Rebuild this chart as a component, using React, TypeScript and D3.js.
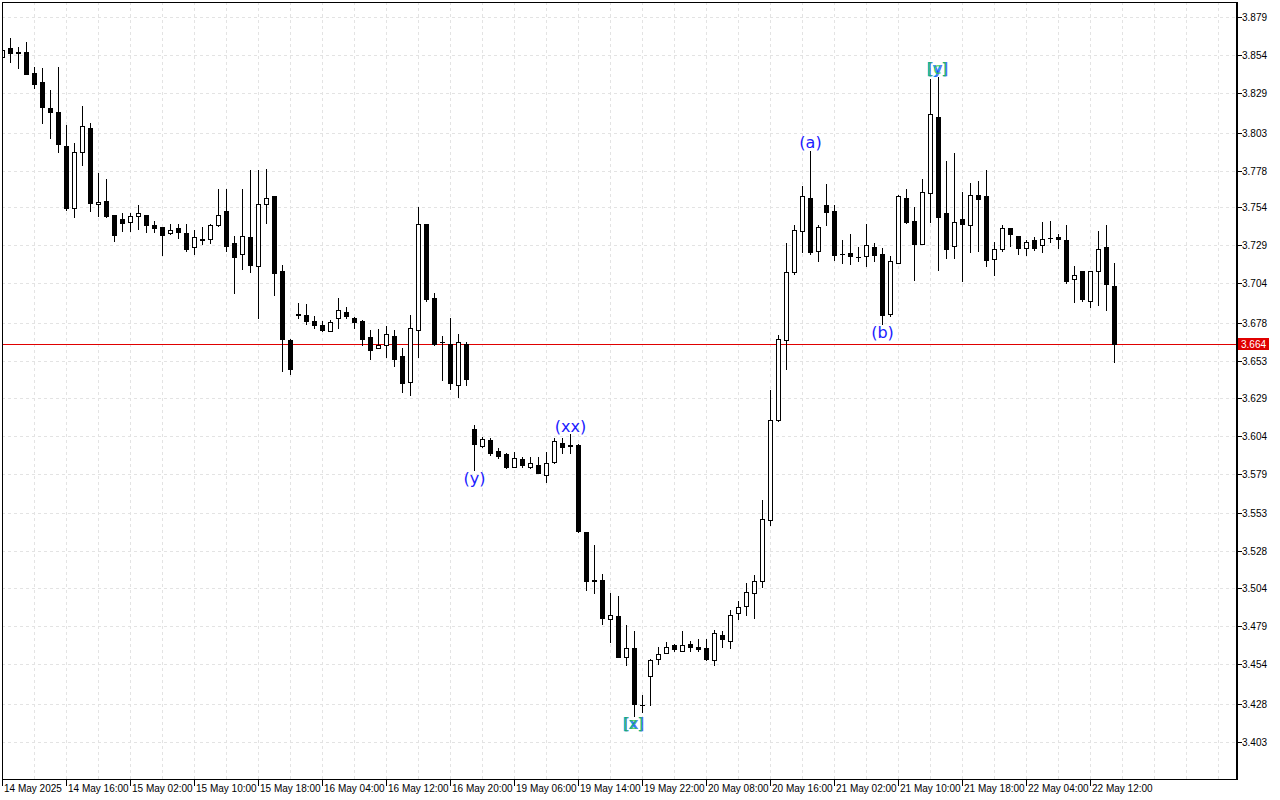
import React from 'react';
import * as d3 from 'd3';

const opens = [3.8527,3.8584,3.8557,3.8558,3.8420,3.8361,3.8190,3.8163,3.7942,3.7532,3.7900,3.8060,3.7559,3.7580,3.7488,3.7462,3.7440,3.7480,3.7488,3.7423,3.7409,3.7368,3.7403,3.7370,3.7276,3.7327,3.7329,3.7421,3.7513,3.7302,3.7230,3.7342,3.7151,3.7559,3.7613,3.7118,3.6671,3.6837,3.6835,3.6791,3.6770,3.6730,3.6811,3.6855,3.6816,3.6796,3.6691,3.6618,3.6638,3.6697,3.6561,3.6392,3.6737,3.7427,3.6947,3.6657,3.6642,3.6375,3.6645,3.6086,3.5974,3.6009,3.5937,3.5917,3.5836,3.5889,3.5833,3.5851,3.5783,3.5866,3.5994,3.5972,3.5976,3.5409,3.5087,3.5093,3.4837,3.4856,3.4587,3.4646,3.4270,3.4462,3.4574,3.4613,3.4666,3.4630,3.4674,3.4653,3.4646,3.4565,3.4732,3.4692,3.4876,3.4922,3.5008,3.5087,3.5488,3.6145,3.6671,3.7116,3.7381,3.7598,3.7250,3.7554,3.7515,3.7230,3.7238,3.7210,3.7217,3.7278,3.7236,3.6842,3.7175,3.7598,3.7451,3.7300,3.7631,3.8131,3.7499,3.7286,3.7460,3.7421,3.7618,3.7613,3.7197,3.7267,3.7401,3.7348,3.7269,3.7322,3.7289,3.7338,3.7342,3.7322,3.7066,3.7118,3.6927,3.7118,3.7276,3.7026];
const highs = [3.8606,3.8650,3.8595,3.8624,3.8461,3.8453,3.8310,3.8463,3.8080,3.7960,3.8205,3.8095,3.7762,3.7725,3.7490,3.7501,3.7501,3.7554,3.7490,3.7449,3.7410,3.7429,3.7429,3.7429,3.7390,3.7410,3.7429,3.7659,3.7659,3.7350,3.7659,3.7784,3.7784,3.7791,3.7615,3.7158,3.6673,3.6908,3.6903,3.6829,3.6796,3.6798,3.6943,3.6883,3.6818,3.6798,3.6732,3.6739,3.6758,3.6732,3.6618,3.6835,3.7543,3.7429,3.6980,3.6697,3.6816,3.6710,3.6658,3.6108,3.6029,3.6027,3.5958,3.5924,3.5935,3.5899,3.5897,3.5897,3.5935,3.6022,3.6027,3.6048,3.5983,3.5411,3.5325,3.5135,3.5010,3.4990,3.4799,3.4760,3.4339,3.4576,3.4651,3.4687,3.4672,3.4760,3.4694,3.4707,3.4707,3.4764,3.4760,3.4896,3.4957,3.5075,3.5128,3.5621,3.6338,3.6699,3.7302,3.7423,3.7679,3.7911,3.7421,3.7692,3.7554,3.7324,3.7363,3.7276,3.7429,3.7304,3.7269,3.7219,3.7620,3.7659,3.7539,3.7723,3.8380,3.8394,3.7843,3.7893,3.7638,3.7697,3.7710,3.7782,3.7309,3.7421,3.7403,3.7350,3.7322,3.7342,3.7440,3.7447,3.7361,3.7421,3.7151,3.7120,3.7120,3.7381,3.7421,3.7177];
const lows = [3.8507,3.8496,3.8457,3.8415,3.8325,3.8095,3.7996,3.7904,3.7519,3.7477,3.7819,3.7517,3.7484,3.7475,3.7319,3.7385,3.7385,3.7396,3.7378,3.7378,3.7227,3.7367,3.7339,3.7254,3.7236,3.7300,3.7306,3.7419,3.7250,3.6977,3.7135,3.7112,3.6816,3.7438,3.6964,3.6465,3.6448,3.6814,3.6774,3.6745,3.6730,3.6728,3.6747,3.6813,3.6747,3.6638,3.6544,3.6617,3.6557,3.6497,3.6327,3.6307,3.6557,3.6925,3.6638,3.6405,3.6346,3.6294,3.6373,3.5812,3.5969,3.5915,3.5895,3.5828,3.5833,3.5833,3.5827,3.5792,3.5739,3.5864,3.5926,3.5926,3.5411,3.5029,3.5005,3.4801,3.4689,3.4585,3.4532,3.4201,3.4223,3.4272,3.4543,3.4612,3.4624,3.4624,3.4630,3.4624,3.4569,3.4532,3.4650,3.4648,3.4834,3.4860,3.4841,3.5044,3.5452,3.6134,3.6480,3.7100,3.7247,3.7234,3.7188,3.7423,3.7192,3.7175,3.7168,3.7188,3.7155,3.7188,3.6776,3.6829,3.7173,3.7436,3.7061,3.7298,3.7442,3.7127,3.7208,3.7208,3.7056,3.7247,3.7254,3.7155,3.7096,3.7254,3.7286,3.7234,3.7227,3.7260,3.7247,3.7309,3.7273,3.7043,3.6918,3.6925,3.6885,3.6899,3.6866,3.6526];
const closes = [3.8573,3.8555,3.8553,3.8417,3.8348,3.8200,3.8167,3.7953,3.7536,3.7900,3.8071,3.7569,3.7574,3.7484,3.7359,3.7438,3.7482,3.7501,3.7424,3.7405,3.7359,3.7388,3.7378,3.7265,3.7342,3.7331,3.7421,3.7486,3.7286,3.7214,3.7348,3.7158,3.7559,3.7598,3.7109,3.6678,3.6478,3.6833,3.6793,3.6767,3.6734,3.6787,3.6868,3.6826,3.6787,3.6675,3.6603,3.6636,3.6710,3.6546,3.6386,3.6750,3.7427,3.6938,3.6640,3.6653,3.6386,3.6655,3.6412,3.5987,3.6020,3.5926,3.5906,3.5833,3.5895,3.5847,3.5858,3.5794,3.5858,3.6007,3.5968,3.5976,3.5413,3.5089,3.5091,3.4841,3.4865,3.4589,3.4646,3.4282,3.4274,3.4568,3.4607,3.4650,3.4643,3.4666,3.4650,3.4641,3.4571,3.4745,3.4703,3.4863,3.4916,3.5014,3.5087,3.5494,3.6145,3.6678,3.7112,3.7390,3.7611,3.7247,3.7407,3.7510,3.7227,3.7234,3.7217,3.7214,3.7289,3.7227,3.6835,3.7190,3.7611,3.7444,3.7300,3.7638,3.8150,3.7477,3.7267,3.7440,3.7427,3.7618,3.7595,3.7194,3.7267,3.7401,3.7361,3.7273,3.7309,3.7273,3.7329,3.7340,3.7329,3.7056,3.7096,3.6938,3.7118,3.7267,3.7037,3.6640];

const priceTicks = [3.879,3.854,3.829,3.803,3.778,3.754,3.729,3.704,3.678,3.653,3.629,3.604,3.579,3.553,3.528,3.504,3.479,3.454,3.428,3.403];
const timeLabels = ['14 May 2025','14 May 16:00','15 May 02:00','15 May 10:00','15 May 18:00','16 May 04:00','16 May 12:00','16 May 20:00','19 May 06:00','19 May 14:00','19 May 22:00','20 May 08:00','20 May 16:00','21 May 02:00','21 May 10:00','21 May 18:00','22 May 04:00','22 May 12:00'];
const labelEvery = 8;
const currentPrice = 3.664;

const waveLabels = [
  { bar: 101, price: 3.7911, text: '(a)', pos: 'above' },
  { bar: 110, price: 3.6776, text: '(b)', pos: 'below' },
  { bar: 71, price: 3.6048, text: '(xx)', pos: 'above' },
  { bar: 59, price: 3.5812, text: '(y)', pos: 'below' },
];
const bracketLabels = [
  { bar: 79, price: 3.4201, texts: ['[x]', '[z]'], pos: 'below' },
  { bar: 117, price: 3.8394, texts: ['[y]', '[c]'], pos: 'above' },
];

const FONT = '"DejaVu Sans", Tahoma, sans-serif';
const AXFONT = '"Liberation Sans", Arial, sans-serif';

export default function App() {
  const W = 1280, H = 800;
  const left = 2, right = 1237, top = 2, bottom = 779;
  const x = d3.scaleLinear().domain([0, 1]).range([2, 10]);
  const y = d3.scaleLinear().domain([3.403, 3.879]).range([741.9, 16.8]);
  const n = opens.length;

  const vGrid: number[] = [];
  for (let i = 4; x(i) < right - 2; i += 4) vGrid.push(x(i));

  const candles = d3.range(n).map(i => {
    const cx = Math.round(x(i));
    const yo = Math.round(y(opens[i]));
    const yc = Math.round(y(closes[i]));
    const yh = Math.round(y(highs[i]));
    const yl = Math.round(y(lows[i]));
    const bull = closes[i] >= opens[i];
    const doji = Math.abs(yo - yc) < 1;
    const t = Math.min(yo, yc), b = Math.max(yo, yc);
    return (
      <g key={i}>
        <line x1={cx + 0.5} x2={cx + 0.5} y1={yh} y2={yl + 1} stroke="#000" strokeWidth={1} />
        {doji ? (
          <line x1={cx - 2} x2={cx + 3} y1={yo + 0.5} y2={yo + 0.5} stroke="#000" strokeWidth={1} />
        ) : bull ? (
          <rect x={cx - 1.5} y={t + 0.5} width={4} height={b - t} fill="#fff" stroke="#000" strokeWidth={1} />
        ) : (
          <rect x={cx - 2} y={t} width={5} height={b - t + 1} fill="#000" />
        )}
      </g>
    );
  });

  const redY = Math.round(y(currentPrice)) + 0.5;

  return (
    <svg width={W} height={H} style={{ position: 'absolute', left: 0, top: 0, background: '#fff' }}>
      <rect x={0} y={0} width={W} height={H} fill="#fff" />
      <defs>
        <clipPath id="plot">
          <rect x={left + 1} y={top + 1} width={right - left - 1} height={bottom - top - 1} />
        </clipPath>
      </defs>
      <g clipPath="url(#plot)">
        {priceTicks.map(p => (
          <line key={'h' + p} x1={left} x2={right} y1={Math.round(y(p)) + 0.5} y2={Math.round(y(p)) + 0.5} stroke="#e3e3e3" strokeDasharray="3,3" />
        ))}
        {vGrid.map(v => (
          <line key={'v' + v} x1={v + 0.5} x2={v + 0.5} y1={top} y2={bottom} stroke="#e3e3e3" strokeDasharray="3,3" />
        ))}
        <line x1={left} x2={right} y1={redY} y2={redY} stroke="#e00000" strokeWidth={1} />
        {candles}
        {waveLabels.map(w => {
          const cx = x(w.bar) + 0.5;
          const yy = w.pos === 'above' ? y(w.price) - 2.5 : y(w.price) + 14;
          return (
            <text key={w.text} x={cx} y={yy} textAnchor="middle" fontFamily={FONT} fontSize={16} fill="#2020ff">{w.text}</text>
          );
        })}
        {bracketLabels.map(bl => {
          const cx = x(bl.bar) - 0.5;
          const yy = bl.pos === 'above' ? y(bl.price) - 3 : y(bl.price) + 13.5;
          return (
            <g key={bl.bar} fontFamily={FONT} fontSize={15} textAnchor="middle">
              <text x={cx - 0.7} y={yy} fill="#00b4e6">{bl.texts[0]}</text>
              <text x={cx + 0.7} y={yy} fill="#2a2aff" opacity={0.75}>{bl.texts[0]}</text>
              <text x={cx} y={yy} fill="#33cc33" opacity={0.7}>{bl.texts[1]}</text>
            </g>
          );
        })}
      </g>
      {/* frame */}
      <line x1={left + 0.5} x2={left + 0.5} y1={top} y2={bottom + 1} stroke="#000" />
      <line x1={left} x2={right} y1={top + 0.5} y2={top + 0.5} stroke="#000" />
      <line x1={left} x2={right + 1} y1={bottom + 0.5} y2={bottom + 0.5} stroke="#000" />
      <line x1={right} x2={right} y1={top} y2={bottom + 1} stroke="#000" strokeWidth={2} />
      {/* y axis */}
      {priceTicks.map(p => {
        const yy = Math.round(y(p)) + 0.5;
        return (
          <g key={'t' + p}>
            <line x1={right + 1} x2={right + 5} y1={yy} y2={yy} stroke="#000" />
            <text x={right + 5} y={yy + 3.5} fontFamily={AXFONT} fontSize={10} fill="#000">{p.toFixed(3)}</text>
          </g>
        );
      })}
      <rect x={right + 1} y={redY - 6.5} width={31} height={12} fill="#e00000" />
      <text x={right + 4} y={redY + 3.5} fontFamily={AXFONT} fontSize={10} fill="#fff">{currentPrice.toFixed(3)}</text>
      {/* x axis */}
      {timeLabels.map((t, k) => {
        const xx = Math.round(x(k * labelEvery)) + 0.5;
        return (
          <g key={t}>
            <line x1={xx} x2={xx} y1={bottom} y2={bottom + 7} stroke="#000" />
            <text x={xx + 1.5} y={bottom + 13} fontFamily={AXFONT} fontSize={10} fill="#000">{t}</text>
          </g>
        );
      })}
    </svg>
  );
}
